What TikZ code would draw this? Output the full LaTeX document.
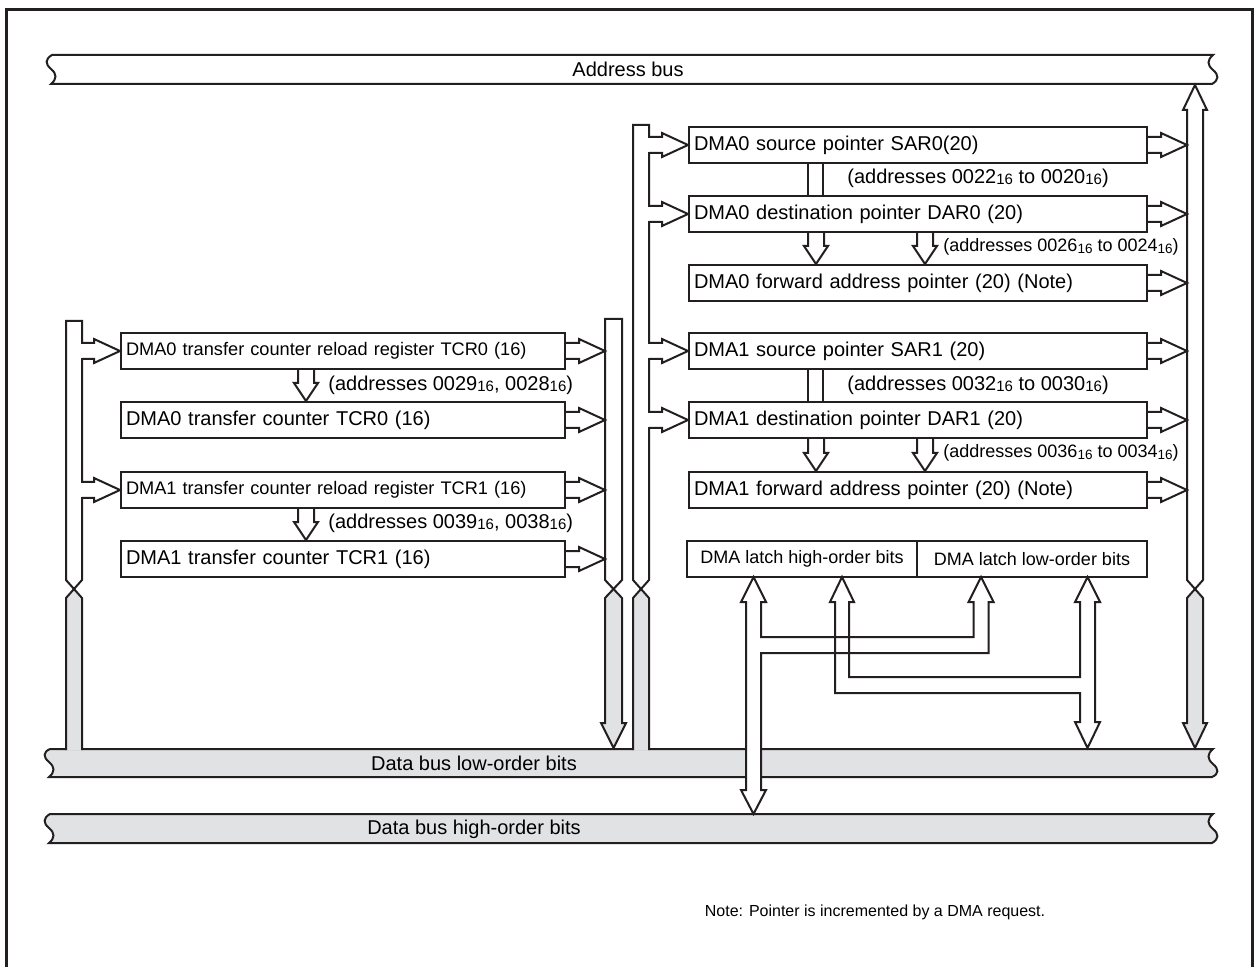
\documentclass[tikz,border=0pt]{standalone}
\usepackage{graphicx}
\usepackage{fontspec}
\setmainfont{Liberation Sans}
\usetikzlibrary{calc}

\definecolor{ink}{HTML}{231F20}
\definecolor{busgray}{HTML}{E1E2E4}

% hex subscript
\newcommand{\hx}[1]{#1\raisebox{-0.15ex}{\scalebox{0.75}{16}}}

% fat arrow from a box out to a bus
\newcommand{\outarrow}[2]{%
  \draw[bus] let \p1=#1, \p2=#2 in
    (\x1,\y1+4pt) -- (\x2-13pt,\y1+4pt) -- (\x2-13pt,\y1+6pt) -- (\x2,\y1)
    -- (\x2-13pt,\y1-6pt) -- (\x2-13pt,\y1-4pt) -- (\x1,\y1-4pt);}
% fat arrow from a bus into a box (bus edge is opened)
\newcommand{\inarrow}[2]{%
  \fill[white] let \p1=#1 in (\x1-0.8pt,\y1-3.6pt) rectangle (\x1+0.8pt,\y1+3.6pt);
  \outarrow{#1}{#2}}
% fat arrow down between two registers
\newcommand{\dnarrow}[2]{%
  \draw[bus] let \p1=#1, \p2=#2 in
    (\x1-4pt,\y1) -- (\x1-4pt,\y2+9pt) -- (\x1-6pt,\y2+9pt) -- (\x1,\y2)
    -- (\x1+6pt,\y2+9pt) -- (\x1+4pt,\y2+9pt) -- (\x1+4pt,\y1);}
% horizontal bus with broken ends
\newcommand{\busbar}[5]{%
  \draw[bus, fill=#5] (#1+1,#3) -- (#2,#3)
    .. controls (#2-6,#3+5) and (#2-6,#3+10) .. (#2,#3+15)
    .. controls (#2+6,#3+20) and (#2+6,#3+25) .. (#2-1,#4)
    -- (#1,#4)
    .. controls (#1+6,#4-5) and (#1+6,#4-10) .. (#1,#4-15)
    .. controls (#1-6,#4-20) and (#1-6,#4-25) .. (#1+1,#3) -- cycle;}

\begin{document}
\begin{tikzpicture}[x=0.5pt, y=-0.5pt, line join=miter,
    bus/.style={draw=ink, line width=1pt},
    reg/.style={draw=ink, line width=1pt, fill=white, anchor=north west, minimum height=18pt,
      inner xsep=2.5pt, inner ysep=0pt, text width=#1, align=left, font=\fontsize{10}{12}\selectfont},
    latch/.style={draw=ink, line width=1pt, anchor=north west, minimum width=115pt, minimum height=18pt,
      inner sep=0pt, font=\fontsize{9}{11}\selectfont},
    addr/.style={anchor=west, inner sep=0pt, font=\fontsize{10}{12}\selectfont},
    buslabel/.style={inner sep=0pt, font=\fontsize{10}{12}\selectfont}
]
\useasboundingbox (0,0) rectangle (1257,967);

% frame
\draw[ink, line width=1.5pt] (6,967) -- (6,10) -- (1252,10) -- (1252,967);

% buses
\busbar{51}{1213}{55}{84}{white}
\busbar{49}{1213}{749}{777}{busgray}
\busbar{49}{1213}{814}{843}{busgray}
\node[buslabel] (abl) at (628,69) {Address bus};
\node[buslabel] (dll) at (474,763) {Data bus low-order bits};
\node[buslabel] (dhl) at (474,829) {Data bus high-order bits};

% transfer counters
\node[reg=217pt, font=\fontsize{9.1}{11}\selectfont] (tcra) at (120,332) {DMA0 transfer counter reload register TCR0 (16)};
\node[reg=217pt] (tcrb) at (120,401) {DMA0 transfer counter TCR0 (16)};
\node[reg=217pt, font=\fontsize{9.1}{11}\selectfont] (tcrc) at (120,471) {DMA1 transfer counter reload register TCR1 (16)};
\node[reg=217pt] (tcrd) at (120,540) {DMA1 transfer counter TCR1 (16)};

% pointers
\node[reg=224pt] (sar0) at (688,126) {DMA0 source pointer SAR0(20)};
\node[reg=224pt] (dar0) at (688,195) {DMA0 destination pointer DAR0 (20)};
\node[reg=224pt] (fwd0) at (688,264) {DMA0 forward address pointer (20) (Note)};
\node[reg=224pt] (sar1) at (688,332) {DMA1 source pointer SAR1 (20)};
\node[reg=224pt] (dar1) at (688,401) {DMA1 destination pointer DAR1 (20)};
\node[reg=224pt] (fwd1) at (688,471) {DMA1 forward address pointer (20) (Note)};

% latch
\node[latch] (lhi) at (686,540) {DMA latch high-order bits};
\node[latch] (llo) at (916,540) {DMA latch low-order bits};

% vertical buses
\coordinate (lbus) at (82,0);
\coordinate (tbus) at (605,0);
\coordinate (pbus) at (649,0);
\coordinate (abus) at (1187,0);

\draw[bus, fill=white] (66,321) -- (82,321) -- (82,580) -- (74,589) -- (66,580) -- cycle;
\fill[busgray] (66,598) -- (74,589) -- (82,598) -- (82,750.5) -- (66,750.5) -- cycle;
\draw[bus] (66,750) -- (66,598) -- (74,589) -- (82,598) -- (82,750);

\draw[bus, fill=white] (605,319) -- (622,319) -- (622,580) -- (613.5,589) -- (605,580) -- cycle;
\draw[bus, fill=busgray] (605,723) -- (605,598) -- (613.5,589) -- (622,598) -- (622,723)
  -- (626,723) -- (613.5,748) -- (601,723) -- cycle;

\draw[bus, fill=white] (633,125) -- (649,125) -- (649,580) -- (641,589) -- (633,580) -- cycle;
\fill[busgray] (633,598) -- (641,589) -- (649,598) -- (649,750.5) -- (633,750.5) -- cycle;
\draw[bus] (633,750) -- (633,598) -- (641,589) -- (649,598) -- (649,750);

\draw[bus, fill=white] (1195,85) -- (1207,110) -- (1203,110) -- (1203,580) -- (1195,589)
  -- (1187,580) -- (1187,110) -- (1183,110) -- cycle;
\draw[bus, fill=busgray] (1187,723) -- (1187,598) -- (1195,589) -- (1203,598) -- (1203,723)
  -- (1207,723) -- (1195,748) -- (1183,723) -- cycle;

% bus to register connections
\inarrow{(lbus |- tcra.west)}{(tcra.west)}
\inarrow{(lbus |- tcrc.west)}{(tcrc.west)}
\foreach \r in {tcra,tcrb,tcrc,tcrd}
  \outarrow{(\r.east)}{(tbus |- \r.east)};
\foreach \r in {sar0,dar0,sar1,dar1}
  \inarrow{(pbus |- \r.west)}{(\r.west)};
\foreach \r in {sar0,dar0,fwd0,sar1,dar1,fwd1}
  \outarrow{(\r.east)}{(abus |- \r.east)};

% register to register
\dnarrow{($(tcra.south west)+(186,0)$)}{($(tcrb.north west)+(186,0)$)}
\dnarrow{($(tcrc.south west)+(186,0)$)}{($(tcrd.north west)+(186,0)$)}
\draw[bus] ($(sar0.south west)+(120,0)$) -- ($(dar0.north west)+(120,0)$)
  ($(sar0.south west)+(135,0)$) -- ($(dar0.north west)+(135,0)$);
\draw[bus] ($(sar1.south west)+(120,0)$) -- ($(dar1.north west)+(120,0)$)
  ($(sar1.south west)+(135,0)$) -- ($(dar1.north west)+(135,0)$);
\dnarrow{($(dar0.south west)+(128,0)$)}{($(fwd0.north west)+(128,0)$)}
\dnarrow{($(dar0.south west)+(237,0)$)}{($(fwd0.north west)+(237,0)$)}
\dnarrow{($(dar1.south west)+(128,0)$)}{($(fwd1.north west)+(128,0)$)}
\dnarrow{($(dar1.south west)+(237,0)$)}{($(fwd1.north west)+(237,0)$)}

% address labels
\node[addr] (ad0) at (847,178) {(addresses \hx{0022} to \hx{0020})};
\node[addr, font=\fontsize{9}{11}\selectfont] (ad1) at (943,247) {(addresses \hx{0026} to \hx{0024})};
\node[addr] (ad2) at (847,385) {(addresses \hx{0032} to \hx{0030})};
\node[addr, font=\fontsize{9}{11}\selectfont] (ad3) at (943,453) {(addresses \hx{0036} to \hx{0034})};
\node[addr] (ad4) at (328,385) {(addresses \hx{0029}, \hx{0028})};
\node[addr] (ad5) at (328,523) {(addresses \hx{0039}, \hx{0038})};

% latch paths
\draw[bus, fill=white] (753.5,577) -- (766,602) -- (761,602) -- (761,637) -- (973.5,637) -- (973.5,602)
  -- (968.5,602) -- (981,577) -- (993.5,602) -- (988.5,602) -- (988.5,653) -- (761,653) -- (761,790)
  -- (766,790) -- (753.5,814) -- (741,790) -- (746,790) -- (746,602) -- (741,602) -- cycle;
\draw[bus] (842,577) -- (854,602) -- (849,602) -- (849,677) -- (1080,677) -- (1080,602) -- (1075,602)
  -- (1087.5,577) -- (1100,602) -- (1095,602) -- (1095,722) -- (1100,722) -- (1087.5,748) -- (1075,722)
  -- (1080,722) -- (1080,693) -- (835,693) -- (835,602) -- (830,602) -- cycle;

\node[inner sep=0pt, font=\fontsize{8}{10}\selectfont] (note) at (875,912) {Note: Pointer is incremented by a DMA request.};
\end{tikzpicture}
\end{document}
